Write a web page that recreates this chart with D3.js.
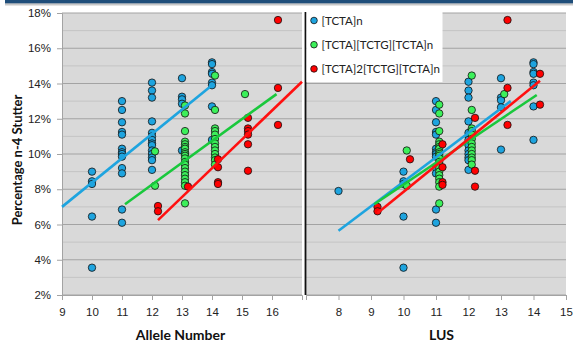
<!DOCTYPE html>
<html><head><meta charset="utf-8">
<script src="https://cdn.jsdelivr.net/npm/d3@7"></script>
<style>
html,body{margin:0;padding:0;background:#fff;}
svg{display:block;font-family:Lato,"Open Sans",sans-serif;}
</style></head>
<body><svg id="c" width="585" height="344"></svg>
<script>
// ---------- data ----------
const pctTicks = [2,4,6,8,10,12,14,16,18];
const pctMinor = [3,5,7,9,11,13,15,17];
const alleleTicks = [9,10,11,12,13,14,15,16];
const lusTicks = [8,9,10,11,12,13,14,15];
const seriesNames = ["[TCTA]n","[TCTA][TCTG][TCTA]n","[TCTA]2[TCTG][TCTA]n"];
const seriesColors = ["#1ea4df","#3cf05a","#ff0000"];
const lineColors = ["#1ea4df","#19c83c","#ff1010"];

// Allele Number panel: [x, [values %]]
const alleleBlue = [
  [10,[9.0,8.45,8.3,6.45,3.55]],
  [11,[13.0,12.5,11.8,11.25,11.1,10.3,10.1,10.0,9.85,9.2,8.9,6.85,6.1]],
  [12,[14.05,13.6,13.2,11.85,11.2,11.0,10.8,10.6,10.5,10.2,10.0,9.8,9.65,9.1]],
  [13,[14.3,13.25,13.1,12.85,10.2]],
  [14,[15.2,15.1,14.65,14.55,14.05,13.9,12.7,10.8]]
];
const alleleGreen = [
  [12.1,[10.15,8.2]],
  [13.1,[12.75,12.3,11.3,10.7,10.55,10.4,10.3,10.1,10.0,9.9,9.75,9.55,9.4,9.2,9.0,8.8,8.6,8.4,8.2,7.2]],
  [14.1,[14.45,12.5,11.45,11.3,11.1,10.85,10.6,10.4,10.2,10.0,9.8,9.65,9.4]],
  [15.1,[13.4]]
];
const alleleRed = [
  [12.2,[7.05,6.75]],
  [13.2,[8.15]],
  [14.2,[9.7,9.25,8.4,8.3]],
  [15.2,[12.05,11.45,11.3,11.1,10.55,9.05]],
  [16.2,[17.6,13.75,11.65]]
];
const alleleTrends = [
  [[9,7.0],[14,13.9]],
  [[11.1,7.15],[16.15,13.4]],
  [[12.2,6.25],[17.0,14.1]]
];

// LUS panel
const lusBlue = [
  [8,[7.9]],
  [10,[9.0,8.45,8.3,6.45,3.55]],
  [11,[13.0,12.5,11.8,11.25,11.1,10.3,10.1,10.0,9.85,9.2,8.9,6.85,6.1]],
  [12,[14.1,13.6,13.2,11.85,11.2,11.0,10.8,10.6,10.5,10.2,10.0,9.8,9.65,9.1]],
  [13,[14.3,13.2,13.05,12.65,10.25]],
  [14,[15.2,15.1,14.65,14.55,14.05,13.9,12.7,10.8]]
];
const lusGreen = [
  [10.1,[10.2,8.2]],
  [11.1,[12.8,12.3,11.3,10.7,10.55,10.4,10.3,10.1,10.0,9.9,9.75,9.55,9.4,9.2,9.0,8.8,8.6,8.4,8.15,7.2]],
  [12.1,[14.45,12.5,11.45,11.3,11.1,10.85,10.6,10.4,10.2,10.0,9.8,9.65,9.4]],
  [13.1,[13.4]]
];
const lusRed = [
  [9.2,[7.0,6.75]],
  [10.2,[9.7]],
  [11.2,[10.55,9.25,8.4,8.25]],
  [12.2,[12.05,9.05,8.15]],
  [13.2,[17.6,13.75,11.65]],
  [14.2,[14.55,12.8]]
];
const lusTrends = [
  [[8,5.65],[13.3,13.0]],
  [[9.1,7.15],[14.1,13.35]],
  [[9.2,6.65],[14.2,14.15]]
];

// ---------- drawing ----------
const svg = d3.select("#c");
const plotTop = 13, plotBottom = 295;
const y = d3.scaleLinear().domain([2,18]).range([plotBottom, plotTop]);

// top banner
svg.append("rect").attr("x",5).attr("y",3).attr("width",568).attr("height",2.5).attr("fill","#c8c8c8");
svg.append("rect").attr("x",5).attr("y",0).attr("width",568).attr("height",3.3).attr("fill","#1f4e7a");

function flatten(arr){ const out=[]; arr.forEach(([x,vs])=>vs.forEach(v=>out.push([x,v]))); return out; }

function panel(x, series, trends, ticks, showY){
  const g = svg.append("g");
  const [x0,x1] = x.range();
  g.append("rect").attr("x",x0).attr("y",plotTop).attr("width",x1-x0).attr("height",plotBottom-plotTop).attr("fill","#d9d9d9");
  g.selectAll(".mn").data(pctMinor).enter().append("line")
    .attr("x1",x0).attr("x2",x1).attr("y1",d=>y(d)).attr("y2",d=>y(d))
    .attr("stroke","#c4c4c4").attr("stroke-width",1);
  g.selectAll(".mj").data(pctTicks).enter().append("line")
    .attr("x1",x0).attr("x2",x1).attr("y1",d=>y(d)).attr("y2",d=>y(d))
    .attr("stroke","#a3a3a3").attr("stroke-width",1);
  // x axis
  const xa = g.append("g").attr("transform",`translate(0,${plotBottom})`)
    .call(d3.axisBottom(x).tickValues(ticks).tickSize(5).tickPadding(8).tickFormat(d3.format("d")));
  xa.select(".domain").attr("stroke","#a3a3a3");
  xa.selectAll(".tick line").attr("stroke","#a3a3a3");
  xa.selectAll("text").attr("font-size","11.5px").attr("fill","#222");
  if(showY){
    const ya = g.append("g").attr("transform",`translate(${x0},0)`)
      .call(d3.axisLeft(y).tickValues(pctTicks).tickSize(5).tickPadding(6).tickFormat(d=>d+"%"));
    ya.select(".domain").attr("stroke","#a3a3a3");
    ya.selectAll(".tick line").attr("stroke","#a3a3a3");
    ya.selectAll("text").attr("font-size","11.5px").attr("fill","#222");
  }
  // points
  series.forEach((s,i)=>{
    g.append("g").selectAll("circle").data(flatten(s)).enter().append("circle")
      .attr("cx",d=>x(d[0])).attr("cy",d=>y(d[1])).attr("r",3.7)
      .attr("fill",seriesColors[i]).attr("stroke","#111").attr("stroke-width",0.8);
  });
  // trend lines
  const line = d3.line().x(d=>x(d[0])).y(d=>y(d[1]));
  trends.forEach((t,i)=>{
    g.append("path").attr("d",line(t)).attr("fill","none")
      .attr("stroke",lineColors[i]).attr("stroke-width",2.6);
  });
  return g;
}

const xA = d3.scaleLinear().domain([9,17]).range([62,302]);
panel(xA,[alleleBlue,alleleGreen,alleleRed],alleleTrends,alleleTicks,true);

const xL = d3.scaleLinear().domain([7,15]).range([306,566]);
panel(xL,[lusBlue,lusGreen,lusRed],lusTrends,lusTicks,false);

// right panel y-axis line (black)
svg.append("line").attr("x1",305.5).attr("x2",305.5).attr("y1",12).attr("y2",plotBottom)
  .attr("stroke","#111").attr("stroke-width",1.8);

// legend
const lg = svg.append("g");
lg.append("rect").attr("x",306.5).attr("y",12).attr("width",136).attr("height",70).attr("fill","#fff");
seriesNames.forEach((n,i)=>{
  const cy = 20.5 + i*24.2;
  lg.append("circle").attr("cx",314).attr("cy",cy).attr("r",3.3)
    .attr("fill",seriesColors[i]).attr("stroke","#111").attr("stroke-width",0.8);
  lg.append("text").attr("x",321.5).attr("y",cy).attr("dy","0.35em")
    .attr("font-size","11.5px").attr("fill","#222").text(n);
});

// axis titles
svg.append("text").attr("x",180.5).attr("y",340).attr("text-anchor","middle")
  .attr("font-size","14px").attr("font-weight","bold").attr("fill","#111").text("Allele Number");
svg.append("text").attr("x",441.5).attr("y",340).attr("text-anchor","middle")
  .attr("font-size","14px").attr("font-weight","bold").attr("fill","#111").text("LUS");
svg.append("text").attr("transform","translate(21.5,160) rotate(-90)").attr("text-anchor","middle")
  .attr("font-size","13px").attr("font-weight","bold").attr("fill","#111").text("Percentage n-4 Stutter");
</script></body></html>
